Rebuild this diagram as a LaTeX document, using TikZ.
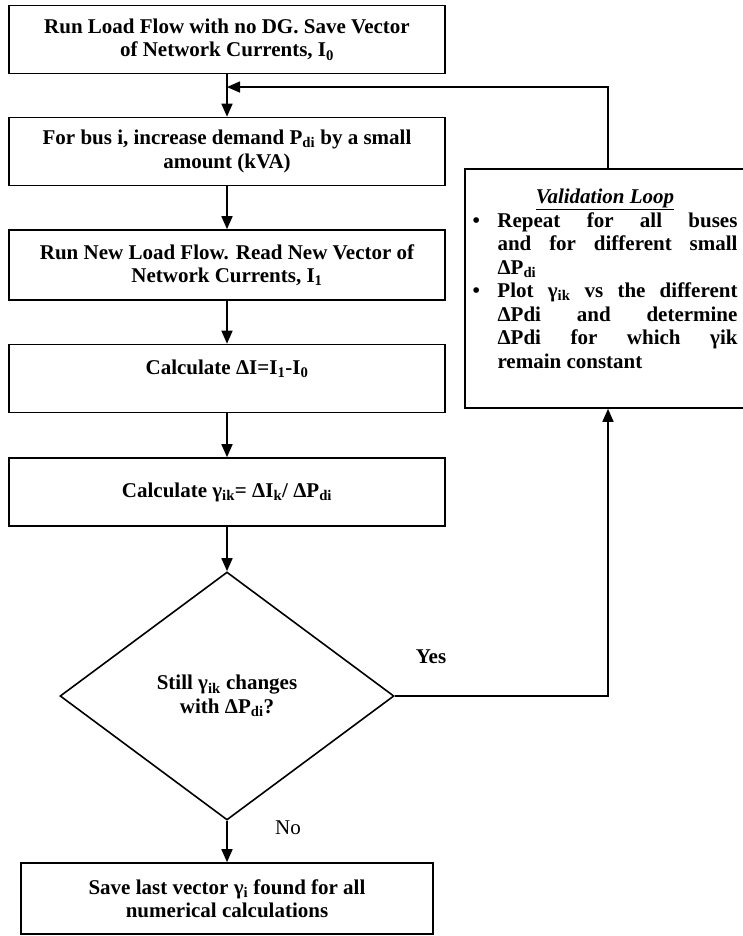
\documentclass[tikz,border=0pt]{standalone}
\usepackage{fontspec}
\setmainfont{Liberation Serif}
\usetikzlibrary{shapes.geometric,arrows.meta,calc}
\tikzset{
	txt/.style={font=\fontsize{21}{23.5}\selectfont\bfseries},
	box/.style={txt,draw,line width=1.6pt,minimum width=436pt,minimum height=68pt,align=center,inner sep=2pt},
	decision/.style={txt,draw,diamond,line width=1.6pt,minimum width=334pt,minimum height=248pt,inner sep=0pt,align=center},
	arr/.style={line width=1.6pt,-{Triangle[length=13pt,width=11pt]}}
}
\newcommand{\sbs}[1]{\textsubscript{#1}}
\begin{document}
\begin{tikzpicture}[x=1pt,y=-1pt]
		\useasboundingbox (0,0) rectangle (742,936);
		\node[box] (load0) at (227,39.5) {Run Load Flow with no DG. Save Vector\\ of Network Currents, I\sbs{0}};
		\node[box] (bus) at (227,151.5) {For bus i, increase demand P\sbs{di} by a small\\ amount (kVA)};
		\node[box,minimum height=70pt] (load1) at (227,265) {Run New Load Flow. Read New Vector of\\ Network Currents, I\sbs{1}};
		\node[box] (dcur) at (227,378.5) {Calculate ΔI=I\sbs{1}-I\sbs{0}\\ \mbox{}};
		\node[box] (gam) at (227,492) {Calculate γ\sbs{ik}= ΔI\sbs{k}/ ΔP\sbs{di}};
		\node[decision] (dec) at (227,696) {Still γ\sbs{ik} changes\\ with ΔP\sbs{di}?};
		\node[box,minimum width=412pt,minimum height=71pt] (save) at (227,898.5) {Save last vector γ\sbs{i} found for all\\ numerical calculations};
		\node[draw,line width=1.6pt,minimum width=286pt,minimum height=239pt] (val) at (608,288.5) {};
		\node[txt,anchor=north,align=center] (valtxt) at (605,185) {\underline{\textit{Validation Loop}}\\
			\begin{tabular}{@{}p{25pt}@{}p{240pt}@{}}
				\textbullet & Repeat for all buses\linebreak and for different small\linebreak ΔP\sbs{di}\\
				\textbullet & Plot γ\sbs{ik} vs the different\linebreak ΔPdi and determine\linebreak ΔPdi for which γik\linebreak remain constant
			\end{tabular}};
		\node[txt] (yes) at (431,657) {Yes};
		\node[font=\fontsize{21}{23.5}\selectfont] (no) at (288,828) {No};
		\coordinate (join) at ($(load0.south)!0.3!(bus.north)$);
		\draw[arr] (load0) -- (bus);
		\draw[arr] (bus) -- (load1);
		\draw[arr] (load1) -- (dcur);
		\draw[arr] (dcur) -- (gam);
		\draw[arr] (gam) -- (dec);
		\draw[arr] (dec) -- (save);
		\draw[arr] (dec.east) -| (val.south);
		\draw[arr] (val.north) |- (join);
\end{tikzpicture}
\end{document}
